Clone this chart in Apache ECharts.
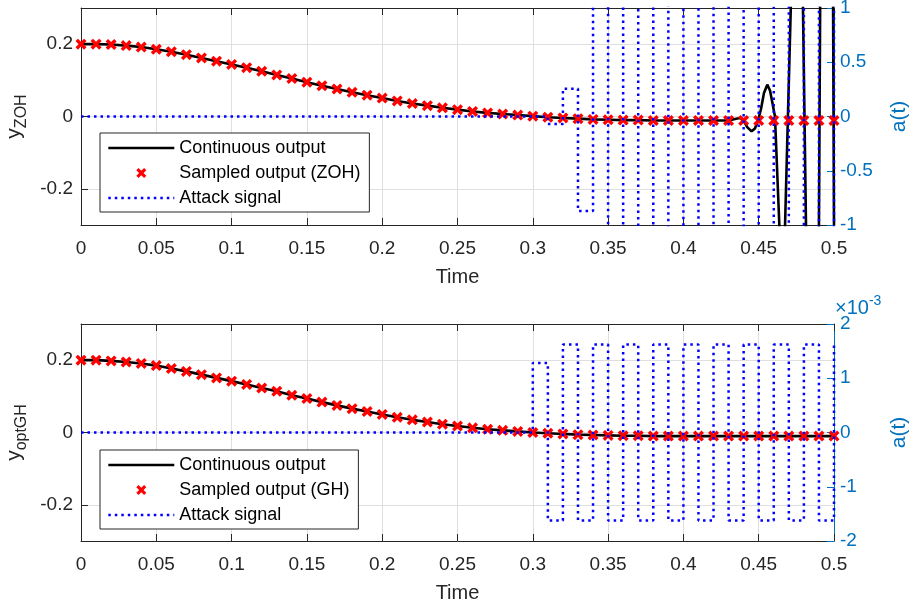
<!DOCTYPE html>
<html lang="en" style="height: 100%">
<head>
  <meta charset="utf-8">
  <title>ZOH vs optimal GH under attack</title>
</head>
<body style="height: 100%; margin: 0">
  <div id="container" style="width: 911px; height: 607px"></div>

  <script type="text/javascript" src="https://cdn.jsdelivr.net/npm/echarts@6.0.0/dist/echarts.min.js"></script>
  <script type="text/javascript">
    var dom = document.getElementById('container');
    var myChart = echarts.init(dom, null, { renderer: 'canvas' });

    // sample instants (every 0.01 s)
    const sampleTimes = [0, 0.01, 0.02, 0.03, 0.04, 0.05, 0.06, 0.07, 0.08, 0.09, 0.1,
      0.11, 0.12, 0.13, 0.14, 0.15, 0.16, 0.17, 0.18, 0.19, 0.2,
      0.21, 0.22, 0.23, 0.24, 0.25, 0.26, 0.27, 0.28, 0.29, 0.3,
      0.31, 0.32, 0.33, 0.34, 0.35, 0.36, 0.37, 0.38, 0.39, 0.4,
      0.41, 0.42, 0.43, 0.44, 0.45, 0.46, 0.47, 0.48, 0.49, 0.5];

    // top plot: sampled output (ZOH)
    const zohSampled = [0.200, 0.200, 0.199, 0.196, 0.192, 0.186, 0.179, 0.171, 0.162, 0.153, 0.144,
      0.135, 0.125, 0.115, 0.105, 0.095, 0.085, 0.076, 0.067, 0.059, 0.051,
      0.043, 0.036, 0.030, 0.024, 0.019, 0.014, 0.010, 0.007, 0.004, 0.001,
      -0.002, -0.004, -0.006, -0.008, -0.009, -0.010, -0.010, -0.011, -0.011, -0.011,
      -0.011, -0.011, -0.011, -0.011, -0.011, -0.011, -0.011, -0.011, -0.011, -0.011];

    // top plot: continuous output follows the samples up to t = 0.43, then blows up between samples
    const zohTailTimes = [0.435, 0.4375, 0.44, 0.4425, 0.4453, 0.4475, 0.4495, 0.4515, 0.4535, 0.4557,
      0.4575, 0.459, 0.4608, 0.4637, 0.4656, 0.4675, 0.4694, 0.4713, 0.4753, 0.4794,
      0.4804, 0.4814, 0.4857, 0.49, 0.4904, 0.4908, 0.4951, 0.4994, 0.4997, 0.5];
    const zohTailValues = [-0.006, -0.004, -0.012, -0.03, -0.041, -0.033, -0.012, 0.02, 0.065, 0.088,
      0.072, 0.04, 0.0, -0.3, -0.6, -0.3, 0.0, 0.3, 1.2, 0.3,
      0.0, -0.3, -2.5, -0.3, 0.0, 0.3, 8, 0.3, 0.0, -0.3];

    // top plot: attack signal (held between samples); values past +-1 are off-scale estimates
    const zohAttackTimes = [0, 0.31, 0.32, 0.33, 0.34, 0.35, 0.36, 0.37, 0.38, 0.39, 0.4,
      0.41, 0.42, 0.43, 0.44, 0.45, 0.46, 0.47, 0.48, 0.49, 0.5];
    const zohAttackValues = [0, -0.07, 0.255, -0.87, 2.9, -9.6, 12, -15, 19, -24, 30,
      -38, 47, -59, 74, -92, 115, -144, 180, -225, 281];

    // bottom plot: sampled output (GH)
    const ghSampled = [0.200, 0.200, 0.198, 0.195, 0.191, 0.185, 0.177, 0.169, 0.160, 0.151, 0.142,
      0.133, 0.123, 0.114, 0.103, 0.094, 0.084, 0.075, 0.066, 0.058, 0.050,
      0.042, 0.035, 0.029, 0.023, 0.018, 0.013, 0.009, 0.006, 0.003, 0.000,
      -0.002, -0.004, -0.006, -0.007, -0.008, -0.009, -0.009, -0.010, -0.010, -0.010,
      -0.010, -0.010, -0.010, -0.010, -0.010, -0.010, -0.010, -0.010, -0.010, -0.010];

    // bottom plot: attack signal
    const ghAttackTimes = [0, 0.3, 0.31, 0.32, 0.33, 0.34, 0.35, 0.36, 0.37, 0.38, 0.39, 0.4,
      0.41, 0.42, 0.43, 0.44, 0.45, 0.46, 0.47, 0.48, 0.49, 0.5];
    const ghAttackValues = [0, 1.28e-3, -1.62e-3, 1.62e-3, -1.62e-3, 1.62e-3, -1.62e-3, 1.62e-3, -1.62e-3, 1.62e-3, -1.62e-3, 1.62e-3,
      -1.62e-3, 1.62e-3, -1.62e-3, 1.62e-3, -1.62e-3, 1.62e-3, -1.62e-3, 1.62e-3, -1.62e-3, 1.62e-3];

    const leftTicks = [-0.2, 0, 0.2];

    const font = "'Liberation Sans', Arial, Helvetica, sans-serif";
    const axisGray = '#262626';
    const rightBlue = '#0072BD';
    const gridGray = '#dfdfdf';
    const crossSymbol = 'path://M0,2.2 L2.2,0 L5,2.8 L7.8,0 L10,2.2 L7.2,5 L10,7.8 L7.8,10 L5,7.2 L2.2,10 L0,7.8 L2.8,5 Z';

    function pairs(ts, vs) {
      return ts.map(function (t, i) { return [t, vs[i]]; });
    }

    const zohCont = pairs(sampleTimes.slice(0, 44), zohSampled.slice(0, 44)).concat(pairs(zohTailTimes, zohTailValues));

    function xAxes(gridIndex) {
      return [
        {
          type: 'value', gridIndex: gridIndex, position: 'bottom',
          min: 0, max: 0.5, interval: 0.05,
          name: 'Time', nameLocation: 'middle', nameGap: 42,
          nameTextStyle: { fontSize: 20, color: axisGray, fontFamily: font },
          axisLine: { show: true, onZero: false, lineStyle: { color: axisGray, width: 1 } },
          axisTick: { show: true, inside: true, length: 7, lineStyle: { color: axisGray } },
          axisLabel: { fontSize: 19, color: axisGray, margin: 14, fontFamily: font },
          splitLine: { show: true, lineStyle: { color: gridGray, width: 1 } }
        },
        {
          type: 'value', gridIndex: gridIndex, position: 'top',
          min: 0, max: 0.5, interval: 0.05,
          axisLine: { show: true, onZero: false, lineStyle: { color: axisGray, width: 1 } },
          axisTick: { show: true, inside: true, length: 7, lineStyle: { color: axisGray } },
          axisLabel: { show: false },
          splitLine: { show: false }
        }
      ];
    }

    function leftAxis(gridIndex, sub) {
      return {
        type: 'value', gridIndex: gridIndex, position: 'left',
        min: -0.3, max: 0.3, interval: 0.1,
        name: '{y|y}{s|' + sub + '}', nameLocation: 'middle', nameGap: 48, nameRotate: 90,
        nameTextStyle: {
          color: axisGray,
          rich: {
            y: { fontSize: 21, fontFamily: font, color: axisGray, verticalAlign: 'bottom', lineHeight: 26, padding: [0, 0, 5, 0] },
            s: { fontSize: 16, fontFamily: font, color: axisGray, verticalAlign: 'bottom', lineHeight: 26 }
          }
        },
        axisLine: { show: true, onZero: false, lineStyle: { color: axisGray, width: 1 } },
        axisTick: { show: true, inside: true, length: 7, customValues: leftTicks, lineStyle: { color: axisGray } },
        axisLabel: { customValues: leftTicks, fontSize: 19, color: axisGray, margin: 8, fontFamily: font },
        splitLine: { show: true, lineStyle: { color: gridGray, width: 1 } }
      };
    }

    function rightAxis(gridIndex, min, max, interval, formatter) {
      return {
        type: 'value', gridIndex: gridIndex, position: 'right',
        min: min, max: max, interval: interval,
        name: 'a(t)', nameLocation: 'middle', nameGap: 55, nameRotate: 90,
        nameTextStyle: { fontSize: 21, color: rightBlue, fontFamily: font },
        axisLine: { show: true, onZero: false, lineStyle: { color: rightBlue, width: 1 } },
        axisTick: { show: true, inside: true, length: 7, lineStyle: { color: rightBlue } },
        axisLabel: { fontSize: 19, color: rightBlue, margin: 6, fontFamily: font, formatter: formatter },
        splitLine: { show: false }
      };
    }

    function legendFor(top, sampledName) {
      const noDot = { opacity: 0 };
      return {
        orient: 'vertical', left: 100, top: top, z: 10,
        data: [
          { name: 'Continuous output', itemStyle: noDot },
          sampledName,
          { name: 'Attack signal', itemStyle: noDot }
        ],
        itemWidth: 66, itemHeight: 10, itemGap: 7,
        padding: [6, 9, 5, 7],
        borderColor: axisGray, borderWidth: 1, borderRadius: 0,
        backgroundColor: '#ffffff',
        lineStyle: { width: 'inherit' },
        textStyle: { fontSize: 18, color: '#000', fontFamily: font },
        selectedMode: false
      };
    }

    function outputSeries(xi, yi, cont, sampled, sampledName) {
      return [
        {
          name: 'Continuous output', type: 'line', xAxisIndex: xi, yAxisIndex: yi,
          data: cont, showSymbol: false, symbol: 'none', z: 3,
          lineStyle: { color: '#000', width: 2.6 }, itemStyle: { color: '#000' }
        },
        {
          name: sampledName, type: 'scatter', xAxisIndex: xi, yAxisIndex: yi,
          data: sampled, symbol: crossSymbol, symbolSize: 11, clip: false, z: 4,
          itemStyle: { color: '#ff0000', opacity: 1 }
        }
      ];
    }

    function attackSeries(xi, yi, data) {
      return {
        name: 'Attack signal', type: 'line', xAxisIndex: xi, yAxisIndex: yi,
        data: data, step: 'end', showSymbol: false, symbol: 'none', z: 5,
        lineStyle: { color: '#0000ff', width: 2.5, type: [2.5, 4] }, itemStyle: { color: '#0000ff' }
      };
    }

    var option = {
      animation: false,
      textStyle: { fontFamily: font },
      grid: [
        { left: 81, top: 8, width: 753, height: 217, outerBoundsMode: 'none', containLabel: false },
        { left: 81, top: 324, width: 753, height: 217, outerBoundsMode: 'none', containLabel: false }
      ],
      xAxis: xAxes(0).concat(xAxes(1)),
      yAxis: [
        leftAxis(0, 'ZOH'),
        rightAxis(0, -1, 1, 0.5),
        leftAxis(1, 'optGH'),
        rightAxis(1, -0.002, 0.002, 0.001, function (v) { return String(Math.round(v * 1000)); })
      ],
      legend: [legendFor(133, 'Sampled output (ZOH)'), legendFor(450, 'Sampled output (GH)')],
      graphic: [{
        type: 'text', left: 835, top: 294, z: 10,
        style: {
          text: '{a|×10}{b|-3}',
          fill: rightBlue,
          rich: {
            a: { fontSize: 20, fontFamily: font, fill: rightBlue, verticalAlign: 'bottom', lineHeight: 24 },
            b: { fontSize: 14, fontFamily: font, fill: rightBlue, verticalAlign: 'top', lineHeight: 24 }
          }
        }
      }],
      series: [].concat(
        outputSeries(0, 0, zohCont, pairs(sampleTimes, zohSampled), 'Sampled output (ZOH)'),
        [attackSeries(0, 1, pairs(zohAttackTimes, zohAttackValues))],
        outputSeries(2, 2, pairs(sampleTimes, ghSampled), pairs(sampleTimes, ghSampled), 'Sampled output (GH)'),
        [attackSeries(2, 3, pairs(ghAttackTimes, ghAttackValues))]
      )
    };

    if (option && typeof option === 'object') {
      myChart.setOption(option);
    }

    window.addEventListener('resize', myChart.resize);
  </script>
</body>
</html>
